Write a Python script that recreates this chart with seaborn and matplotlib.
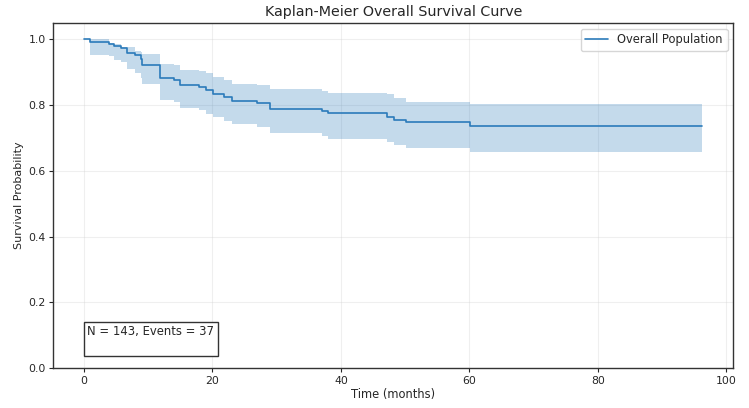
import numpy as np
import pandas as pd
import matplotlib
matplotlib.use("Agg")
import matplotlib.pyplot as plt
import seaborn as sns

# Данные кривой Каплана-Мейера
times = [0, 0.9, 3.9, 4.7, 5.7, 6.7, 7.9, 8.8, 9.0, 11.9, 14.0, 15.0, 17.9, 19.0,
         20.1, 21.8, 23.0, 27.0, 29.0, 37.0, 38.0, 47.2, 48.3, 50.1, 60.1, 96.3]
survival = [1.0, 0.993, 0.986, 0.979, 0.972, 0.958, 0.951, 0.939, 0.923, 0.882, 0.875,
            0.862, 0.855, 0.845, 0.833, 0.823, 0.812, 0.805, 0.789, 0.782, 0.776,
            0.764, 0.754, 0.747, 0.737, 0.737]
ci_lower = [1.0, 0.951, 0.948, 0.938, 0.931, 0.911, 0.896, 0.881, 0.865, 0.815, 0.808,
            0.792, 0.786, 0.774, 0.764, 0.751, 0.742, 0.732, 0.714, 0.705, 0.698,
            0.688, 0.678, 0.668, 0.656, 0.656]
ci_upper = [1.0, 1.0, 0.99, 0.985, 0.977, 0.977, 0.965, 0.960, 0.956, 0.926, 0.922,
            0.908, 0.903, 0.897, 0.884, 0.875, 0.865, 0.860, 0.848, 0.843, 0.837,
            0.835, 0.820, 0.810, 0.802, 0.802]
n_patients = 143
n_events = 37

df = pd.DataFrame({'time': times, 'surv': survival, 'lo': ci_lower, 'hi': ci_upper})

sns.set_style("ticks")
plt.rcParams['font.family'] = ['DejaVu Sans']

fig = plt.figure(figsize=(7.49, 4.08), dpi=100)
ax = fig.add_axes([0.071, 0.098, 0.908, 0.846])

color = '#2b7bba'
ax.fill_between(df['time'], df['lo'], df['hi'], step='post', color=color, alpha=0.28, linewidth=0)
sns.lineplot(data=df, x='time', y='surv', drawstyle='steps-post', color=color,
             linewidth=1.2, label='Overall Population', ax=ax)

ax.set_ylim(0, 1.05)
ax.set_xticks([0, 20, 40, 60, 80, 100])
ax.set_yticks([0.0, 0.2, 0.4, 0.6, 0.8, 1.0])
ax.grid(True, alpha=0.3)
ax.tick_params(labelsize=7.8, length=3, width=0.8, pad=2.5)
for s in ax.spines.values():
    s.set_color('#333333')
    s.set_linewidth(1.0)

ax.set_title('Kaplan-Meier Overall Survival Curve', fontsize=10.3, pad=5)
ax.set_xlabel('Time (months)', fontsize=8.3, labelpad=2)
ax.set_ylabel('Survival Probability', fontsize=8, labelpad=3)

ax.legend(loc='upper right', fontsize=8.3, frameon=True, fancybox=True)

ax.text(0.05, 0.045, f'N = {n_patients}, Events = {n_events}\n', transform=ax.transAxes,
        fontsize=8.4, verticalalignment='bottom', linespacing=1.1,
        bbox=dict(boxstyle='square', facecolor='white', edgecolor='#333333'))

plt.savefig('out.png', dpi=100)
